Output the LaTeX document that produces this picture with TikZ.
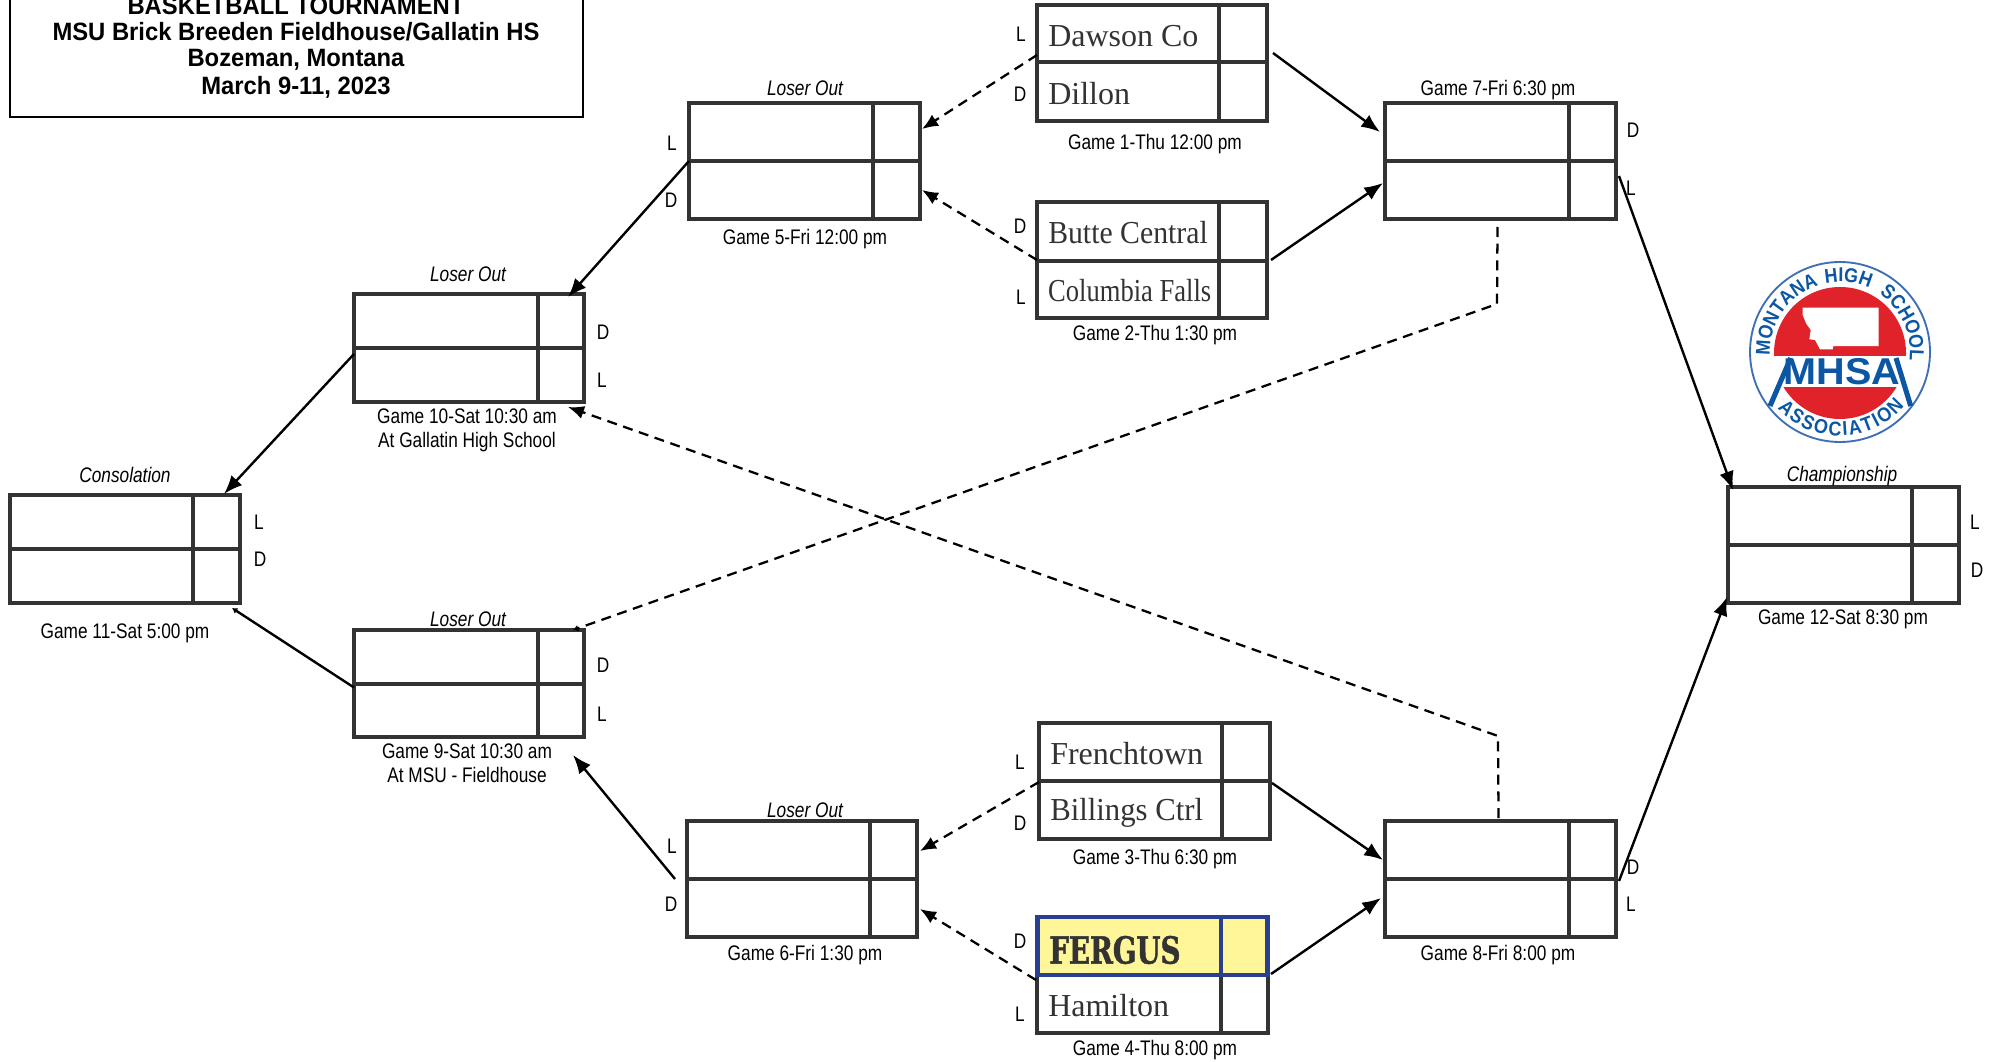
\documentclass[tikz,border=0pt]{standalone}
\usepackage{fontspec}
\usetikzlibrary{arrows.meta,decorations.text}
\setmainfont{Liberation Sans}
\newfontfamily\narrowf[FakeStretch=0.82]{Liberation Sans}
\newfontfamily\boldnarrow[FakeStretch=0.95]{Liberation Sans Bold}
\newfontfamily\teamf{Liberation Serif}
\newfontfamily\slabf[FakeStretch=0.74,FakeBold=1.2]{DejaVu Serif Bold}
\newfontfamily\logof{Liberation Sans Bold}
\newfontfamily\logoarc[FakeStretch=0.9]{Liberation Sans Bold}
\definecolor{ink}{HTML}{333333}
\definecolor{hiblue}{HTML}{2A3F8F}
\definecolor{hiyel}{HTML}{FFF599}
\definecolor{mred}{HTML}{E0232B}
\definecolor{mblue}{HTML}{0B57A4}
\definecolor{mring}{HTML}{3F70B5}
\tikzset{
  bx/.style={draw=ink,line width=2.5pt,fill=white,inner sep=0pt,outer sep=0pt},
  bxline/.style={draw=ink,line width=2.4pt},
  lbl/.style={inner sep=0pt,font=\narrowf\fontsize{15.8pt}{18pt}\selectfont,text=black},
  titlelbl/.style={inner sep=0pt,font=\narrowf\itshape\fontsize{15.8pt}{18pt}\selectfont,text=black},
  headlbl/.style={inner sep=0pt,font=\boldnarrow\fontsize{18.8pt}{22pt}\selectfont,text=black},
  team/.style={inner sep=0pt,anchor=west,font=\teamf\fontsize{24pt}{28pt}\selectfont,text=ink},
  win/.style={line width=1.8pt,-{Latex[length=14pt,width=11pt]}},
  lose/.style={line width=1.7pt,dash pattern=on 7.5pt off 5pt,-{Latex[length=12pt,width=10pt]}},
  wintiny/.style={line width=1.8pt,-{Latex[length=4pt,width=5pt]}},
  losetiny/.style={line width=1.7pt,dash pattern=on 7.5pt off 5pt,-{Latex[length=4pt,width=5pt]}},
}
\newcommand{\bracketbox}[7]{%
  \pgfmathsetmacro\bw{(#4-#2)*.75}\pgfmathsetmacro\bh{(#5-#3)*.75}%
  \node[bx,minimum width=\bw pt,minimum height=\bh pt] (#1) at ({(#2+#4)/2},{(#3+#5)/2}) {};%
  \draw[bxline] (#2,#6)--(#4,#6);%
  \draw[bxline] (#7,#3)--(#7,#5);%
}
\begin{document}
\begin{tikzpicture}[x=0.75pt,y=-0.75pt]
\useasboundingbox (0,0) rectangle (1997,1062);
\clip (0,0) rectangle (1997,1062);
% header
\node[draw=black,line width=1.9pt,inner sep=0pt,minimum width=429.75pt,minimum height=120pt] (hdr) at (296.5,37) {};
\node[headlbl] (h1) at (296,6) {BASKETBALL TOURNAMENT};
\node[headlbl] (h2) at (296,32) {MSU Brick Breeden Fieldhouse/Gallatin HS};
\node[headlbl] (h3) at (296,60) {Bozeman, Montana};
\node[headlbl] (h4) at (296,87) {March 9-11, 2023};
% boxes
\bracketbox{g1}{1037}{5}{1267}{121}{62}{1219}
\bracketbox{g2}{1037}{202}{1267}{318}{261}{1219}
\bracketbox{g3}{1039}{723}{1270}{839}{781}{1222}
\bracketbox{g4}{1037}{917}{1268}{1033}{975}{1221}
\bracketbox{g5}{689}{103}{920}{219}{161}{873}
\bracketbox{g6}{687}{821}{917}{937}{879}{870}
\bracketbox{g7}{1385}{103}{1616}{219}{161}{1569}
\bracketbox{g8}{1385}{821}{1616}{937}{879}{1569}
\bracketbox{g9}{354}{630}{584}{737}{684}{538}
\bracketbox{g10}{354}{294}{584}{402}{348}{538}
\bracketbox{g11}{10}{495}{240}{603}{549}{193}
\bracketbox{g12}{1728}{487}{1959}{603}{545}{1912}
% highlighted entry
\node[draw=hiblue,fill=hiyel,line width=3.7pt,inner sep=0pt,minimum width=173pt,minimum height=43.5pt] (g4hi) at (1152.5,946) {};
\draw[draw=hiblue,line width=3.7pt] (g4hi.north -| 1221,0) -- (g4hi.south -| 1221,0);
% teams
\node[team] (t1) at (1048,36) {Dawson Co};
\node[team] (t2) at (1048,94) {Dillon};
\node[team,xscale=.93] (t3) at (1048,233) {Butte Central};
\node[team,xscale=.83] (t4) at (1048,291) {Columbia Falls};
\node[team] (t5) at (1050,754) {Frenchtown};
\node[team,xscale=.96] (t6) at (1050,813) {Billings Ctrl};
\node[inner sep=0pt,anchor=west,font=\slabf\fontsize{28pt}{30pt}\selectfont,text=ink] (t7) at (1049,950) {FERGUS};
\node[team] (t8) at (1048,1006) {Hamilton};
% connectors
\draw[lose] ([shift={(0,-8)}]g1.west) -- ([shift={(2,-32)}]g5.east);
\draw[lose] (g2.west) -- ([shift={(2,29)}]g5.east);
\draw[win] ([shift={(6,-10)}]g1.east) -- ([shift={(-5,-29)}]g7.west);
\draw[win] ([shift={(4,0)}]g2.east) -- ([shift={(-2,22)}]g7.west);
\draw[lose] ([shift={(0,1)}]g3.west) -- ([shift={(3,-28)}]g6.east);
\draw[lose] ([shift={(-1,5)}]g4.west) -- ([shift={(3,30)}]g6.east);
\draw[win] ([shift={(2,2)}]g3.east) -- ([shift={(-2,-19)}]g8.west);
\draw[win] ([shift={(3,-1)}]g4.east) -- ([shift={(-4,19)}]g8.west);
\draw[win] (g5.west) -- ([shift={(99,3)}]g10.north);
\draw[win] ([shift={(0,6)}]g10.west) -- ([shift={(99,-1)}]g11.north);
\draw[wintiny] ([shift={(0,4)}]g9.west) -- ([shift={(107,5)}]g11.south);
\draw[win] ([shift={(-12,0)}]g6.west) -- ([shift={(104,18)}]g9.south);
\draw[win] ([shift={(3,15)}]g7.east) -- ([shift={(5,-55)}]g12.west);
\draw[win] ([shift={(3,2)}]g8.east) -- ([shift={(-1,52)}]g12.west);
\coordinate (b8) at (1498,736);
\coordinate (b7) at (1497,304);
\draw[lose] ([shift={(-2,-3)}]g8.north) -- (b8) -- ([shift={(99,5)}]g10.south);
\draw[losetiny] ([shift={(-3,8)}]g7.south) -- (b7) -- ([shift={(104,0)}]g9.north);
% game captions
\node[lbl] (c1) at (1155,144) {Game 1-Thu 12:00 pm};
\node[lbl] (c2) at (1155,335) {Game 2-Thu 1:30 pm};
\node[lbl] (c3) at (1155,859) {Game 3-Thu 6:30 pm};
\node[lbl] (c4) at (1155,1050) {Game 4-Thu 8:00 pm};
\node[lbl] (c5) at (805,239) {Game 5-Fri 12:00 pm};
\node[lbl] (c6) at (805,955) {Game 6-Fri 1:30 pm};
\node[lbl] (c7) at (1498,90) {Game 7-Fri 6:30 pm};
\node[lbl] (c8) at (1498,955) {Game 8-Fri 8:00 pm};
\node[lbl] (c9a) at (467,751) {Game 9-Sat 10:30 am};
\node[lbl] (c9b) at (467,775) {At MSU - Fieldhouse};
\node[lbl] (c10a) at (467,416) {Game 10-Sat 10:30 am};
\node[lbl] (c10b) at (467,442) {At Gallatin High School};
\node[lbl] (c11) at (125,633) {Game 11-Sat 5:00 pm};
\node[lbl] (c12) at (1843,619) {Game 12-Sat 8:30 pm};
\node[titlelbl] (o1) at (805,88) {Loser Out};
\node[titlelbl] (o2) at (468,274) {Loser Out};
\node[titlelbl] (o3) at (468,619) {Loser Out};
\node[titlelbl] (o4) at (805,810) {Loser Out};
\node[titlelbl] (o5) at (125,475) {Consolation};
\node[titlelbl] (o6) at (1842,476) {Championship};
% L / D marks
\node[lbl] (m1) at (1021,34) {L};
\node[lbl] (m2) at (1020,94) {D};
\node[lbl] (m3) at (1020,226) {D};
\node[lbl] (m4) at (1021,297) {L};
\node[lbl] (m5) at (1020,762) {L};
\node[lbl] (m6) at (1020,823) {D};
\node[lbl] (m7) at (1020,941) {D};
\node[lbl] (m8) at (1020,1014) {L};
\node[lbl] (m9) at (672,143) {L};
\node[lbl] (m10) at (671,200) {D};
\node[lbl] (m11) at (672,846) {L};
\node[lbl] (m12) at (671,904) {D};
\node[lbl] (m13) at (603,332) {D};
\node[lbl] (m14) at (602,380) {L};
\node[lbl] (m15) at (603,665) {D};
\node[lbl] (m16) at (602,714) {L};
\node[lbl] (m17) at (259,522) {L};
\node[lbl] (m18) at (260,559) {D};
\node[lbl] (m19) at (1633,130) {D};
\node[lbl] (m20) at (1631,188) {L};
\node[lbl] (m21) at (1633,867) {D};
\node[lbl] (m22) at (1631,904) {L};
\node[lbl] (m23) at (1975,522) {L};
\node[lbl] (m24) at (1977,570) {D};
% logo
\coordinate (lc) at (1840,352);
\draw[mring,line width=1.4pt] (lc) circle (67.5pt);
\begin{scope}
  \clip (1760,270) rectangle (1920,355);
  \fill[mred] (1840,353) circle (49.5pt);
\end{scope}
\begin{scope}
  \clip (1760,387) rectangle (1920,430);
  \fill[mred] (1840,353) circle (49.5pt);
\end{scope}
\fill[white] (1802.7,307.7) -- (1878.7,307.7) -- (1878.7,346) -- (1833.3,346) -- (1832.7,349.3) -- (1820,349.3) -- (1815,340) -- (1809.3,339.3) -- (1810.7,330) -- (1806,323.3) -- (1802.7,315) -- cycle;
\draw[mblue,line width=3.8pt] (1770,406) -- (1790.7,358);
\draw[mblue,line width=3.8pt] (1896,358) -- (1910.7,406);
\node[inner sep=0pt,xscale=1.06,font=\logof\fontsize{28pt}{30pt}\selectfont,text=mblue] (mh) at (1842,372) {MHSA};
\path[decorate,decoration={text along path,text align=fit to path,text color=mblue,
  text={|\logoarc\fontsize{15pt}{16pt}\selectfont|MONTANA}}]
  ([shift={(183:52.5pt)}]lc) arc[start angle=183,end angle=112,radius=52.5pt];
\path[decorate,decoration={text along path,text align=fit to path,text color=mblue,
  text={|\logoarc\fontsize{15pt}{16pt}\selectfont|HIGH}}]
  ([shift={(102:52.5pt)}]lc) arc[start angle=102,end angle=67,radius=52.5pt];
\path[decorate,decoration={text along path,text align=fit to path,text color=mblue,
  text={|\logoarc\fontsize{15pt}{16pt}\selectfont|SCHOOL}}]
  ([shift={(56:52.5pt)}]lc) arc[start angle=56,end angle=-3,radius=52.5pt];
\path[decorate,decoration={text along path,text align=fit to path,text color=mblue,
  text={|\logoarc\fontsize{15pt}{16pt}\selectfont|ASSOCIATION}}]
  ([shift={(222:63pt)}]lc) arc[start angle=222,end angle=320,radius=63pt];
\end{tikzpicture}
\end{document}
